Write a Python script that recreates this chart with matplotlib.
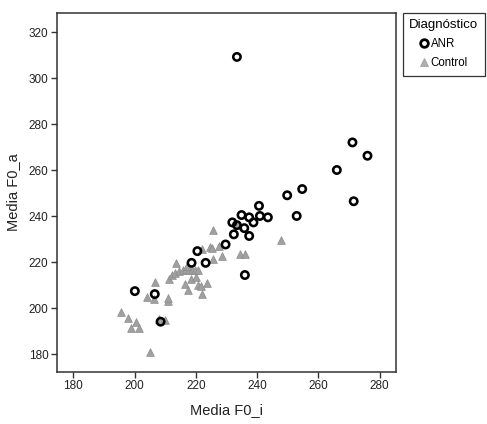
import matplotlib
matplotlib.use("Agg")
import matplotlib.pyplot as plt
from matplotlib.lines import Line2D

plt.rcParams['font.family'] = ['Liberation Sans', 'DejaVu Sans']

anr_x = [233.4, 271.1, 276.0, 266.0, 271.5, 254.7, 249.8, 252.9, 240.6, 243.5,
         240.9, 237.4, 234.9, 238.8, 231.9, 235.8, 233.4, 232.4, 237.4, 229.7,
         220.5, 223.2, 218.6, 236.0, 200.1, 206.6, 208.5]
anr_y = [309.3, 272.1, 266.3, 260.1, 246.5, 251.8, 249.1, 240.1, 244.5, 239.5,
         240.1, 239.5, 240.5, 237.3, 237.3, 234.8, 236.1, 232.1, 231.4, 227.7,
         224.8, 219.7, 219.7, 214.4, 207.4, 206.1, 194.1]

ctrl_x = [195.7, 197.9, 200.5, 198.9, 201.6, 205.2, 204.0, 206.2, 206.7, 211.0,
          207.9, 209.8, 210.9, 211.3, 212.3, 213.2, 213.4, 214.5, 215.7, 216.7,
          217.8, 218.8, 219.7, 220.7, 216.5, 217.5, 218.4, 219.9, 220.8, 221.6,
          222.1, 223.5, 222.1, 224.6, 225.3, 225.6, 227.6, 228.6, 225.6, 233.7,
          234.4, 235.9, 247.8, 217.2]
ctrl_y = [198.2, 195.9, 194.0, 191.5, 191.4, 181.0, 204.8, 204.0, 211.2, 203.3,
          195.3, 194.7, 204.4, 212.5, 214.4, 215.3, 219.8, 216.2, 216.5, 217.0,
          216.8, 216.6, 216.8, 216.6, 210.6, 208.0, 212.6, 213.5, 210.2, 209.8,
          206.3, 211.1, 225.8, 226.7, 226.0, 221.4, 226.9, 222.5, 234.1, 236.1,
          223.4, 223.4, 229.6, 218.5]

x_ticks = [180, 200, 220, 240, 260, 280]
y_ticks = [180, 200, 220, 240, 260, 280, 300, 320]

fig = plt.figure(figsize=(4.87, 4.24), dpi=100)
ax = fig.add_axes([0.1164, 0.1226, 0.6961, 0.8467])

tri_color = '#a0a0a0'
tri_edge = '#8c8c8c'
ax.scatter(ctrl_x, ctrl_y, marker='^', s=31, facecolor=tri_color,
           edgecolor=tri_edge, linewidths=0.5, zorder=2)
ax.scatter(anr_x, anr_y, marker='o', s=28, facecolor='none',
           edgecolor='black', linewidths=1.85, zorder=3)

ax.set_xlim(174.6, 285.2)
ax.set_ylim(172.2, 328.4)
ax.set_xticks(x_ticks)
ax.set_yticks(y_ticks)
ax.tick_params(direction='out', length=4, width=1.0, color='#333333',
               labelsize=8.5, labelcolor='#222222', pad=2)
for s in ax.spines.values():
    s.set_linewidth(1.1)
    s.set_color('#333333')

ax.set_xlabel('Media F0_i', fontsize=10.5, labelpad=8, color='#222222')
ax.set_ylabel('Media F0_a', fontsize=10.5, labelpad=6, color='#222222')

handles = [
    Line2D([], [], marker='o', linestyle='none', markersize=5.5,
           markerfacecolor='none', markeredgecolor='black', markeredgewidth=2.0),
    Line2D([], [], marker='^', linestyle='none', markersize=5.5,
           markerfacecolor='#b0b0b0', markeredgecolor='#999999', markeredgewidth=0.5),
]
leg = fig.legend(handles, ['ANR', 'Control'], title='Diagnóstico',
                 loc='upper left', bbox_to_anchor=(0.827, 0.970),
                 frameon=True, fancybox=False, edgecolor='black',
                 fontsize=8.3, title_fontsize=9.5, handlelength=0.8,
                 handletextpad=0.15, labelspacing=0.62, borderpad=0.55,
                 borderaxespad=0.0)
leg.get_frame().set_linewidth(0.9)

fig.savefig('out.png', dpi=100, facecolor='white')
